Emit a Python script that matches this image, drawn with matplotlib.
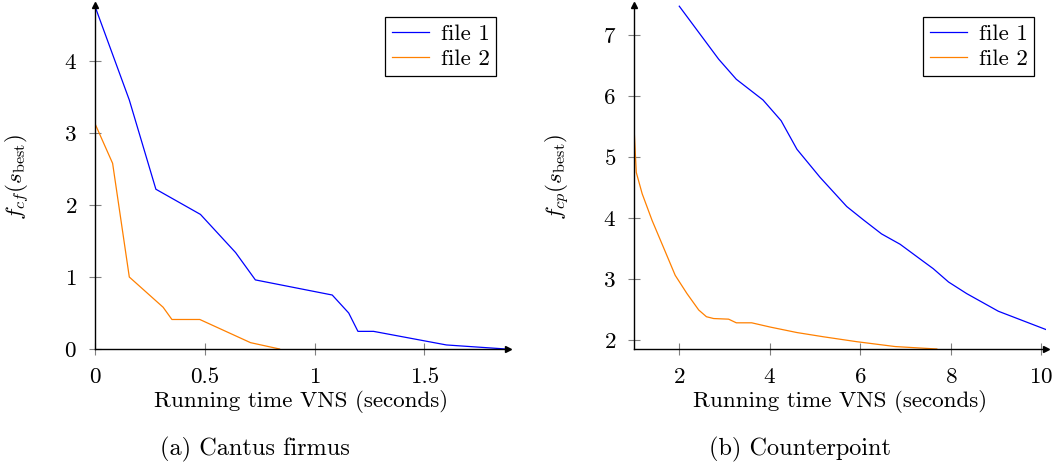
#!/usr/bin/env python3
"""VNS convergence: best objective value over running time, two input files."""

import matplotlib
matplotlib.use('Agg')
import matplotlib.pyplot as plt

# (a) Cantus firmus
cf_file1_x = [0, 0.156, 0.277, 0.48, 0.64, 0.73, 1.08, 1.155, 1.197, 1.268, 1.60, 1.87]
cf_file1_y = [4.76, 3.46, 2.22, 1.87, 1.34, 0.96, 0.75, 0.50, 0.245, 0.245, 0.056, 0.0]
cf_file2_x = [0, 0.08, 0.156, 0.31, 0.35, 0.477, 0.708, 0.84]
cf_file2_y = [3.13, 2.58, 1.0, 0.58, 0.41, 0.41, 0.088, 0.0]

# (b) Counterpoint
cp_file1_x = [2.0, 2.46, 2.87, 3.26, 3.85, 4.25, 4.60, 5.11, 5.70, 6.07, 6.47,
              6.88, 7.39, 7.61, 7.95, 8.35, 9.05, 10.1]
cp_file1_y = [7.48, 7.02, 6.61, 6.28, 5.94, 5.60, 5.13, 4.67, 4.19, 3.97, 3.74,
              3.57, 3.29, 3.17, 2.95, 2.76, 2.47, 2.17]
cp_file2_x = [1.0, 1.05, 1.18, 1.40, 1.65, 1.91, 2.17, 2.43, 2.60, 2.76, 3.09,
              3.26, 3.60, 4.01, 4.60, 5.19, 5.92, 6.77, 7.69]
cp_file2_y = [5.49, 4.75, 4.40, 3.96, 3.52, 3.06, 2.76, 2.49, 2.38, 2.35, 2.34,
              2.28, 2.28, 2.21, 2.12, 2.05, 1.97, 1.89, 1.85]

cf_xticks = [0, 0.5, 1, 1.5]
cf_xticklabels = ['0', '0.5', '1', '1.5']
cf_yticks = [0, 1, 2, 3, 4]
cp_xticks = [2, 4, 6, 8, 10]
cp_yticks = [2, 3, 4, 5, 6, 7]

series_labels = ['file 1', 'file 2']
xlabel = 'Running time VNS (seconds)'

plt.rcParams['font.family'] = 'cmr10'
plt.rcParams['mathtext.fontset'] = 'cm'
plt.rcParams['axes.formatter.use_mathtext'] = True
plt.rcParams['font.size'] = 16.6

BLUE = '#0000ff'
ORANGE = '#ff8000'


def style_axis(ax):
    for side in ['top', 'right']:
        ax.spines[side].set_visible(False)
    for side in ['left', 'bottom']:
        ax.spines[side].set_linewidth(1.0)
    ax.tick_params(direction='inout', length=8, width=0.8, color='#808080',
                   labelcolor='black', pad=9)
    # arrow heads at the axis ends
    ax.plot(1, 0, '>', color='black', ms=5, transform=ax.transAxes, clip_on=False)
    ax.plot(0, 1, '^', color='black', ms=5, transform=ax.transAxes, clip_on=False)


def draw_panel(ax, xs, ys, xlim, ylim, ylabel, ylabel_x):
    for x, y, color, label in zip(xs, ys, [BLUE, ORANGE], series_labels):
        ax.plot(x, y, color=color, linewidth=0.9, label=label)
    ax.set_xlim(*xlim)
    ax.set_ylim(*ylim)
    ax.set_xlabel(xlabel)
    ax.xaxis.set_label_coords(0.5, -0.119)
    ax.set_ylabel(ylabel)
    ax.yaxis.set_label_coords(ylabel_x, 0.5)
    leg = ax.legend(loc='upper right', fancybox=False, framealpha=1,
                    edgecolor='black', handlelength=1.6, borderpad=0.3,
                    labelspacing=0.25, handletextpad=0.5)
    leg.get_frame().set_linewidth(0.9)
    style_axis(ax)


fig = plt.figure(figsize=(10.56, 4.67), dpi=100)
ax1 = fig.add_axes([0.090, 0.2527, 0.391, 0.7366])
ax2 = fig.add_axes([0.6004, 0.2527, 0.390, 0.7366])

draw_panel(ax1, [cf_file1_x, cf_file2_x], [cf_file1_y, cf_file2_y],
           (0, 1.88), (0, 4.78), r'$f_{cf}(s_{\mathrm{best}})$', -0.1526)
ax1.set_xticks(cf_xticks)
ax1.set_xticklabels(cf_xticklabels)
ax1.set_yticks(cf_yticks)

draw_panel(ax2, [cp_file1_x, cp_file2_x], [cp_file1_y, cp_file2_y],
           (1, 10.1), (1.85, 7.5), r'$f_{cp}(s_{\mathrm{best}})$', -0.1505)
ax2.set_xticks(cp_xticks)
ax2.set_yticks(cp_yticks)

fig.text(0.2418, 0.0375, '(a) Cantus firmus', ha='center', va='center', fontsize=17.5)
fig.text(0.758, 0.0375, '(b) Counterpoint', ha='center', va='center', fontsize=17.5)

fig.savefig('out.png', dpi=100)
